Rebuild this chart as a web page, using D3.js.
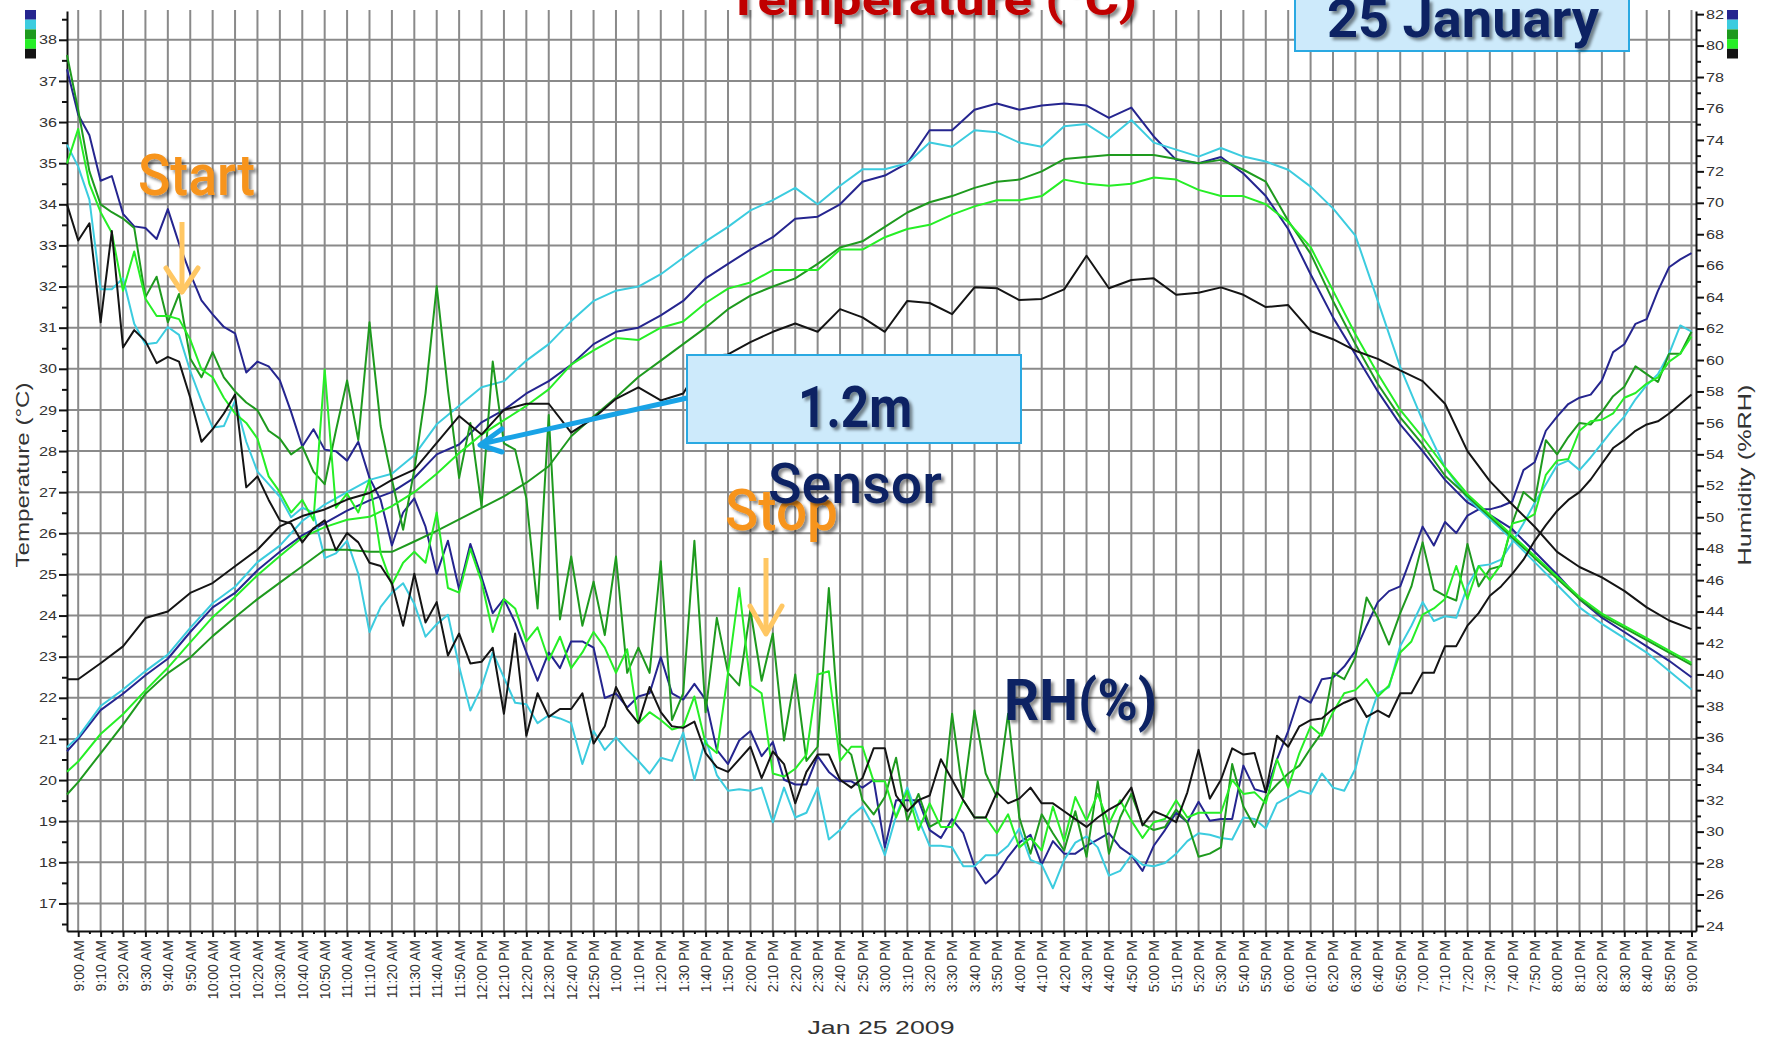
<!DOCTYPE html>
<html><head><meta charset="utf-8">
<script src="https://cdn.jsdelivr.net/npm/d3@7"></script>
<style>html,body{margin:0;padding:0;background:#fff;overflow:hidden}svg{display:block}</style>
</head><body><div id="chart"></div>
<script>
// ---------- DATA ----------
// time stamps in minutes after midnight (08:55 ... 21:00)
const tempTimes = [535].concat(d3.range(540, 1261, 10));   // 74 points
const humTimes  = d3.range(535, 1261, 5);                  // 146 points

// Temperature (°C), left axis
const tempNavy = [20.7,21.0,21.7,22.1,22.55,22.95,23.6,24.2,24.55,25.1,25.55,25.95,26.25,26.55,26.8,27.0,27.35,27.92,28.16,28.7,29.0,29.4,29.7,30.1,30.6,30.9,31.0,31.3,31.65,32.2,32.55,32.9,33.2,33.65,33.7,34.0,34.55,34.7,35.0,35.8,35.8,36.3,36.45,36.3,36.4,36.45,36.4,36.1,36.35,35.65,35.08,35.0,35.15,34.75,34.2,33.4,32.3,31.25,30.35,29.45,28.65,28.0,27.3,26.75,26.45,26.1,25.55,25.0,24.4,23.95,23.6,23.25,22.9,22.5];
const tempCyan = [20.8,21.05,21.8,22.2,22.65,23.05,23.7,24.3,24.7,25.3,25.7,26.3,26.7,27.0,27.3,27.45,27.9,28.65,29.1,29.55,29.7,30.2,30.6,31.16,31.65,31.9,32.0,32.3,32.7,33.1,33.45,33.85,34.1,34.4,34.0,34.45,34.85,34.85,35.0,35.5,35.4,35.8,35.75,35.5,35.4,35.9,35.95,35.6,36.05,35.5,35.33,35.16,35.37,35.16,35.04,34.84,34.43,33.9,33.24,31.65,30.04,28.74,27.6,26.85,26.35,25.85,25.3,24.75,24.2,23.8,23.45,23.1,22.65,22.2];
const tempDkGreen = [19.65,19.95,20.65,21.35,22.1,22.6,22.98,23.5,23.96,24.4,24.8,25.2,25.6,25.6,25.55,25.55,25.8,26.06,26.34,26.62,26.9,27.23,27.63,28.36,28.84,29.3,29.8,30.2,30.6,31.0,31.45,31.78,32.0,32.2,32.55,32.95,33.1,33.45,33.8,34.05,34.2,34.4,34.55,34.6,34.8,35.1,35.15,35.2,35.2,35.2,35.1,35.0,35.08,34.84,34.55,33.6,32.8,31.65,30.6,29.63,28.82,28.16,27.4,26.9,26.4,25.9,25.4,24.9,24.4,24.0,23.7,23.4,23.1,22.8];
const tempBrGreen = [20.2,20.45,21.12,21.6,22.18,22.73,23.35,23.96,24.45,24.98,25.45,25.9,26.15,26.33,26.4,26.66,27.0,27.45,27.95,28.4,28.75,29.1,29.5,30.1,30.45,30.75,30.7,31.0,31.15,31.6,31.95,32.1,32.4,32.4,32.4,32.9,32.9,33.2,33.4,33.5,33.75,33.95,34.1,34.1,34.2,34.6,34.5,34.45,34.5,34.65,34.6,34.35,34.2,34.2,34.0,33.57,32.96,31.9,30.84,29.88,29.0,28.33,27.6,26.95,26.45,25.95,25.45,24.95,24.45,24.05,23.75,23.45,23.15,22.85];
const tempBlack = [22.45,22.45,22.84,23.25,23.94,24.1,24.55,24.79,25.2,25.6,26.17,26.42,26.58,26.82,26.98,27.3,27.55,28.2,28.85,28.4,29.0,29.15,29.15,28.45,28.8,29.27,29.55,29.23,29.4,30.3,30.35,30.65,30.9,31.1,30.9,31.45,31.25,30.9,31.65,31.6,31.33,31.98,31.96,31.67,31.7,31.93,32.75,31.96,32.16,32.2,31.8,31.85,31.98,31.8,31.5,31.55,30.92,30.72,30.44,30.24,29.96,29.7,29.15,28.0,27.27,26.7,26.16,25.55,25.18,24.93,24.6,24.2,23.88,23.67];

// Relative humidity (%RH), right axis
const humNavy = [78.5,75.6,74.3,71.4,71.7,69.3,68.5,68.4,67.7,69.6,67.4,65.5,63.8,
62.9,62.1,61.7,59.2,59.9,59.6,58.7,56.7,54.5,55.6,54.3,54.2,
53.6,54.8,52.5,51.1,48.2,50.3,51.2,49.4,46.4,48.5,45.4,48.3,
46.2,43.9,44.8,43.3,41.4,39.6,41.4,40.4,42.1,42.1,41.7,38.5,
38.8,37.9,38.6,38.8,41.1,38.8,38.4,39.4,38.4,35.2,34.3,35.8,
36.4,34.8,35.7,33.3,33.0,33.0,34.8,33.8,33.2,33.2,32.8,33.3,
29.0,32.0,32.0,32.0,30.1,29.6,30.8,29.9,27.8,26.7,27.3,28.4,
29.3,29.8,27.9,29.4,28.6,28.6,29.1,29.5,29.9,29.0,28.5,27.5,
29.1,30.1,31.2,30.6,31.9,30.7,30.8,30.8,34.2,32.7,32.5,34.6,
36.4,38.6,38.2,39.7,39.8,40.5,41.5,43.1,44.6,45.3,45.6,47.5,
49.4,48.2,49.7,49.0,50.1,50.5,50.5,50.7,51.0,53.0,53.5,55.5,
56.4,57.2,57.6,57.8,58.7,60.5,61.0,62.3,62.6,64.4,65.9,66.4,
66.8];
const humCyan = [73.7,72.3,70.2,64.5,64.5,65.2,62.3,61.0,61.1,62.1,61.6,59.3,57.4,
55.7,55.8,57.4,54.8,52.9,52.1,51.3,50.0,50.6,50.3,47.4,47.7,
48.5,46.4,42.7,44.3,45.2,45.8,44.5,42.4,43.2,43.8,40.5,37.7,
39.2,41.4,39.8,38.2,38.1,36.9,37.4,37.2,36.9,34.3,36.4,35.2,
36.0,35.2,34.5,33.7,34.7,34.5,36.3,33.3,35.9,33.6,32.6,32.7,
32.6,32.8,30.6,32.8,30.9,31.2,32.8,29.5,30.1,31.0,31.6,30.3,
28.5,31.0,32.8,30.8,29.1,29.1,29.0,27.8,27.8,28.5,28.5,29.1,
30.2,28.2,27.9,26.4,28.2,29.3,29.7,29.0,27.2,27.5,28.5,27.9,
27.8,28.0,28.6,29.4,29.9,29.8,29.6,29.5,30.9,30.8,30.2,31.8,
32.2,32.6,32.4,33.7,32.8,32.6,34.0,36.7,38.8,39.2,41.8,43.1,
44.6,43.4,43.7,43.6,45.6,46.9,47.0,47.3,48.4,49.6,50.9,52.1,
53.3,53.6,53.0,53.8,54.7,55.6,56.4,57.5,58.4,59.1,60.4,62.2,
61.8];
const humDkGreen = [79.4,75.9,72.0,69.9,69.4,69.0,68.4,64.0,65.3,62.4,64.2,60.1,58.9,
60.5,58.9,58.0,57.3,56.8,55.5,55.0,54.0,54.5,52.9,52.1,55.5,
58.7,54.9,62.4,55.8,52.4,49.2,53.0,57.9,64.7,58.1,52.5,56.0,
50.7,59.9,54.7,54.3,51.2,44.2,56.5,43.5,47.5,43.1,45.9,42.5,
47.5,40.1,41.7,40.1,47.2,37.1,38.8,48.5,37.6,43.6,40.1,39.3,
44.1,39.6,42.6,35.8,40.0,34.5,35.4,45.5,35.6,34.9,32.0,31.1,
32.2,34.7,30.7,32.4,30.3,30.7,37.5,32.2,37.7,33.7,32.2,37.5,
30.9,28.6,31.1,29.9,28.8,31.3,28.4,33.2,28.6,30.9,32.4,30.5,
30.1,30.3,31.4,30.6,28.4,28.6,29.0,34.3,31.6,30.3,32.2,33.0,
33.7,34.2,35.3,36.3,40.1,39.7,41.1,44.9,43.6,41.9,43.9,45.6,
48.4,45.4,45.0,44.7,48.3,45.6,46.7,46.9,49.6,51.6,51.0,54.9,
54.0,55.1,56.0,55.9,56.7,57.7,58.3,59.6,59.1,58.6,60.4,60.4,
61.8];
const humBrGreen = [72.5,74.7,71.2,69.4,68.1,64.4,66.9,63.9,62.8,62.8,62.6,61.3,59.4,
58.9,57.6,56.6,56.0,55.0,52.6,51.6,50.3,51.1,49.8,59.4,50.6,
51.5,50.3,52.4,47.7,45.7,47.1,47.8,47.1,50.3,45.5,45.2,48.0,
45.9,42.7,44.8,44.2,42.1,43.0,40.9,42.4,40.4,41.4,42.7,41.7,
40.1,41.6,36.9,37.6,37.1,36.5,36.7,38.6,35.6,35.0,40.1,45.5,
39.3,38.8,33.7,33.5,34.0,34.9,40.0,40.2,34.5,35.4,35.4,33.2,
33.2,30.9,32.6,30.1,31.8,30.3,30.3,32.0,30.9,30.9,29.9,31.1,
29.0,29.6,28.8,31.6,29.4,32.2,30.7,32.4,30.5,32.0,30.7,29.6,
30.6,30.8,32.0,30.9,31.2,31.2,31.2,33.3,32.4,32.5,31.8,34.6,
32.8,35.0,36.7,36.1,37.6,38.8,39.0,39.7,38.6,39.3,41.4,42.1,
43.8,44.2,44.8,46.9,44.8,46.9,46.0,47.0,49.6,49.8,50.2,52.7,
53.6,53.7,55.5,56.1,56.2,56.6,57.6,57.9,58.5,58.9,59.9,60.4,
61.5];
const humBlack = [69.9,67.6,68.7,62.4,68.2,60.8,61.9,61.2,59.8,60.2,59.9,57.6,54.8,
55.6,56.6,57.8,51.9,52.6,51.1,49.8,49.6,48.4,49.3,49.8,47.9,
49.0,48.4,47.1,46.9,45.8,43.1,46.4,43.3,44.6,41.2,42.6,40.7,
40.8,41.7,37.5,42.6,36.1,38.8,37.3,37.8,37.8,38.8,35.6,36.7,
39.2,37.8,36.9,39.2,37.6,36.7,36.6,37.0,35.0,34.1,33.8,34.6,
35.4,33.4,35.1,34.3,31.8,33.8,34.9,34.9,33.3,32.8,33.4,35.3,
35.3,32.3,31.3,32.0,32.3,34.6,33.3,32.0,30.9,30.9,32.5,31.8,
32.1,32.8,31.8,31.8,31.3,30.8,30.3,30.9,31.4,31.8,32.8,30.4,
31.3,31.0,30.6,32.5,35.2,32.1,33.3,35.3,34.9,35.0,32.5,36.1,
35.4,36.7,37.1,37.2,37.8,38.2,38.5,37.3,37.7,37.3,38.8,38.8,
40.1,40.1,41.8,41.8,43.1,43.9,45.0,45.6,46.4,47.3,48.5,49.5,
50.4,51.1,51.6,52.4,53.4,54.4,54.9,55.5,55.9,56.1,56.6,57.2,
57.8];

const seriesColors = ["#25258f", "#3cccdf", "#1e9a1e", "#26ee26", "#141414"];
const tempSeries = [tempNavy, tempCyan, tempDkGreen, tempBrGreen, tempBlack];
const humSeries  = [humNavy, humCyan, humDkGreen, humBrGreen, humBlack];
const leftTicks  = d3.range(17, 39);
const rightTicks = d3.range(24, 83, 2);
const xTickMinutes = d3.range(540, 1261, 10);

// ---------- CHART ----------
const W = 1771, H = 1040;
const svg = d3.select("#chart").append("svg").attr("width", W).attr("height", H);
svg.append("rect").attr("width", W).attr("height", H).attr("fill", "#fff");

const defs = svg.append("defs");
const f = defs.append("filter").attr("id", "sh").attr("x", "-20%").attr("y", "-30%").attr("width", "150%").attr("height", "170%");
f.append("feDropShadow").attr("dx", 3).attr("dy", 3).attr("stdDeviation", 1.6)
 .attr("flood-color", "#000").attr("flood-opacity", 0.45);

const x  = d3.scaleLinear().domain([535, 1262]).range([67, 1696]);
const yL = d3.scaleLinear().domain([16.33, 38.7]).range([931, 11]);
const yR = d3.scaleLinear().domain([23.68, 82.2]).range([931, 11]);

// grid
const grid = svg.append("g").attr("stroke", "#8a8a8a").attr("stroke-width", 2);
grid.selectAll("line.v").data(xTickMinutes).join("line").attr("class", "v")
  .attr("x1", d => x(d)).attr("x2", d => x(d)).attr("y1", 10).attr("y2", 931);
grid.selectAll("line.h").data(leftTicks).join("line").attr("class", "h")
  .attr("x1", 67).attr("x2", 1696).attr("y1", d => yL(d)).attr("y2", d => yL(d));

// legend swatches
[25, 1727].forEach(lx => {
  svg.append("g").selectAll("rect").data(seriesColors).join("rect")
    .attr("x", lx).attr("y", (d, i) => 10 + i * 9.7).attr("width", 11).attr("height", 9.7)
    .attr("fill", d => d);
});

function fmtTime(m) {
  const h = Math.floor(m / 60), mm = m % 60;
  const ap = h < 12 ? "AM" : "PM";
  const h12 = (h % 12) || 12;
  return h12 + ":" + String(mm).padStart(2, "0") + " " + ap;
}
const tickFont = "'Liberation Sans', Arial, sans-serif";

// left axis
const gL = svg.append("g").attr("transform", "translate(67,0)");
gL.call(d3.axisLeft(yL).tickValues(leftTicks).tickSize(8).tickSizeOuter(0).tickFormat(d3.format("d")));
gL.append("g").call(d3.axisLeft(yL).tickValues(d3.range(16.5, 38.6, 1)).tickSize(5).tickFormat(""))
  .select(".domain").remove();
// right axis
const gR = svg.append("g").attr("transform", "translate(1696,0)");
gR.call(d3.axisRight(yR).tickValues(rightTicks).tickSize(8).tickSizeOuter(0).tickFormat(d3.format("d")));
gR.append("g").call(d3.axisRight(yR).tickValues(d3.range(25, 82, 2)).tickSize(5).tickFormat(""))
  .select(".domain").remove();
// bottom axis
const gB = svg.append("g").attr("transform", "translate(0,931)");
gB.call(d3.axisBottom(x).tickValues(xTickMinutes).tickSize(6).tickSizeOuter(0).tickFormat(fmtTime));
gB.append("g").call(d3.axisBottom(x).tickValues(d3.range(545, 1261, 10)).tickSize(3).tickFormat(""))
  .select(".domain").remove();

[gL, gR, gB].forEach(g => {
  g.selectAll(".domain").attr("stroke", "#111").attr("stroke-width", 2);
  g.selectAll(".tick line").attr("stroke", "#111").attr("stroke-width", 2);
});
gL.selectAll(".tick text").attr("x", -10).attr("font-family", tickFont).attr("font-size", 13)
  .attr("fill", "#333").attr("textLength", 18).attr("lengthAdjust", "spacingAndGlyphs");
gR.selectAll(".tick text").attr("x", 10).attr("font-family", tickFont).attr("font-size", 13)
  .attr("fill", "#333").attr("textLength", 18).attr("lengthAdjust", "spacingAndGlyphs");
gB.selectAll(".tick text").attr("font-family", tickFont).attr("font-size", 14).attr("fill", "#333")
  .attr("transform", "rotate(-90)").attr("x", -9).attr("y", 0).attr("dy", "0.35em")
  .attr("text-anchor", "end");

// axis titles
svg.append("text").attr("transform", "translate(29,475) rotate(-90)").attr("text-anchor", "middle")
  .attr("font-family", tickFont).attr("font-size", 18).attr("fill", "#333")
  .attr("textLength", 185).attr("lengthAdjust", "spacingAndGlyphs").text("Temperature (°C)");
svg.append("text").attr("transform", "translate(1751,475) rotate(-90)").attr("text-anchor", "middle")
  .attr("font-family", tickFont).attr("font-size", 18).attr("fill", "#333")
  .attr("textLength", 181).attr("lengthAdjust", "spacingAndGlyphs").text("Humidity (%RH)");
svg.append("text").attr("x", 881).attr("y", 1034).attr("text-anchor", "middle")
  .attr("font-family", tickFont).attr("font-size", 18).attr("fill", "#333")
  .attr("textLength", 147).attr("lengthAdjust", "spacingAndGlyphs").text("Jan 25 2009");

// lines
const lineT = d3.line().x((d, i) => x(tempTimes[i])).y(d => yL(d));
const lineH = d3.line().x((d, i) => x(humTimes[i])).y(d => yR(d));
const plot = svg.append("g").attr("fill", "none").attr("stroke-width", 2).attr("stroke-linejoin", "round");
seriesColors.forEach((c, i) => {
  plot.append("path").attr("d", lineT(tempSeries[i])).attr("stroke", c);
  plot.append("path").attr("d", lineH(humSeries[i])).attr("stroke", c);
});

// ---------- ANNOTATIONS ----------
const annFont = "'Roboto', 'Liberation Sans Narrow', 'DejaVu Sans Condensed', sans-serif";
const navyTxt = "#0b2463";
function label(t, x0, yb, len, size, color, weight) {
  return svg.append("text").attr("x", x0).attr("y", yb).attr("font-family", annFont)
    .attr("font-size", size).attr("font-weight", weight || 500).attr("fill", color)
    .attr("textLength", len).attr("lengthAdjust", "spacingAndGlyphs")
    .attr("filter", "url(#sh)").text(t);
}
// title (mostly cut off at top)
label("Temperature (°C)", 727, 15, 410, 44, "#c00000", 700);
// date box
svg.append("rect").attr("x", 1295).attr("y", -4).attr("width", 334).attr("height", 55)
  .attr("fill", "#cdeafb").attr("stroke", "#2aa9e2").attr("stroke-width", 2);
label("25 January", 1327, 37, 272, 54, navyTxt, 700);
// 1.2m box
svg.append("rect").attr("x", 687).attr("y", 355).attr("width", 334).attr("height", 88)
  .attr("fill", "#cdeafb").attr("stroke", "#2aa9e2").attr("stroke-width", 2);
label("1.2m", 798, 427, 114, 58, navyTxt, 700);
// blue arrow
const arrowBlue = "#19a3e6";
svg.append("line").attr("x1", 687).attr("y1", 398).attr("x2", 481).attr("y2", 444)
  .attr("stroke", arrowBlue).attr("stroke-width", 5);
svg.append("path").attr("d", "M502,429 L480,445 L502,452").attr("fill", "none")
  .attr("stroke", arrowBlue).attr("stroke-width", 5).attr("stroke-linecap", "round").attr("stroke-linejoin", "round");
// Start / Stop
const orange = "#f7941d", arrowOr = "#ffc763";
label("Start", 138, 195, 117, 58, orange, 500);
svg.append("line").attr("x1", 182).attr("y1", 222).attr("x2", 182).attr("y2", 290)
  .attr("stroke", arrowOr).attr("stroke-width", 5);
svg.append("path").attr("d", "M166,268 L182,292 L198,268").attr("fill", "none")
  .attr("stroke", arrowOr).attr("stroke-width", 5).attr("stroke-linecap", "round").attr("stroke-linejoin", "round");
label("Stop", 725, 530, 113, 58, orange, 500);
svg.append("line").attr("x1", 766).attr("y1", 558).attr("x2", 766).attr("y2", 632)
  .attr("stroke", arrowOr).attr("stroke-width", 5);
svg.append("path").attr("d", "M750,606 L766,634 L782,606").attr("fill", "none")
  .attr("stroke", arrowOr).attr("stroke-width", 5).attr("stroke-linecap", "round").attr("stroke-linejoin", "round");
label("Sensor", 768, 503, 174, 56, navyTxt, 500);
label("RH(%)", 1004, 720, 153, 58, navyTxt, 700);
</script>
</body></html>
